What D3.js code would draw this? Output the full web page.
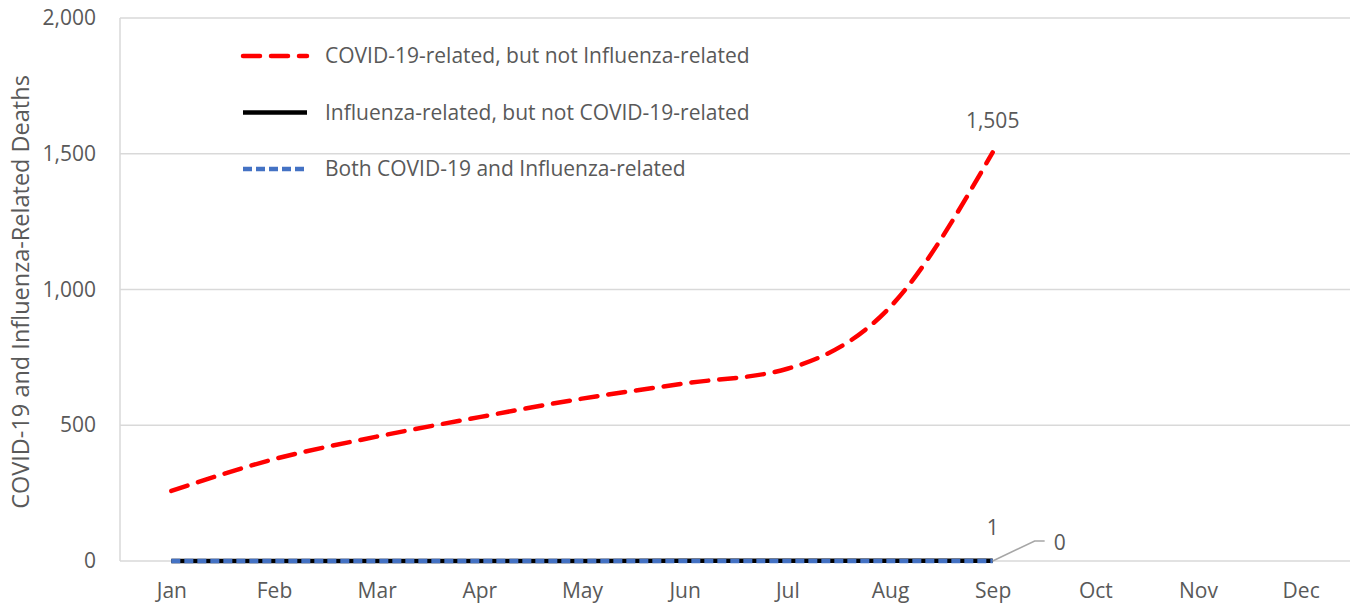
<!DOCTYPE html>
<html>
<head>
<meta charset="utf-8">
<script src="https://cdn.jsdelivr.net/npm/d3@7"></script>
<style>
  body { margin: 0; background: #fff; }
  text { font-family: "Open Sans", "Liberation Sans", sans-serif; fill: #595959; }
</style>
</head>
<body>
<div id="chart"></div>
<script>
// data
let months = ['Jan', 'Feb', 'Mar', 'Apr', 'May', 'Jun', 'Jul', 'Aug', 'Sep', 'Oct', 'Nov', 'Dec'];
let covidOnly = [258, 375, 458, 530, 598, 654, 708, 935, 1505];
let fluOnly = [0, 0, 0, 0, 0, 1, 1, 1, 1];
let both = [0, 0, 0, 0, 0, 0, 0, 0, 0];
let yTicks = [0, 500, 1000, 1500, 2000];
let seriesNames = [
    'COVID-19-related, but not Influenza-related',
    'Influenza-related, but not COVID-19-related',
    'Both COVID-19 and Influenza-related'
];

let config = {
    svg: {width: 1350, height: 604},
    plot: {left: 120, right: 1352, top: 18, bottom: 561},
    font: 21
};

let svg = d3.select('#chart')
    .append('svg')
        .attr('width', config.svg.width)
        .attr('height', config.svg.height);

let x = d3.scalePoint()
    .domain(months)
    .range([config.plot.left, config.plot.right])
    .padding(0.5);

let y = d3.scaleLinear()
    .domain([0, 2000])
    .range([config.plot.bottom, config.plot.top]);

// gridlines
svg.append('g')
    .selectAll('line')
    .data(yTicks)
    .join('line')
        .attr('x1', config.plot.left)
        .attr('x2', config.plot.right)
        .attr('y1', d => y(d))
        .attr('y2', d => y(d))
        .attr('stroke', '#d9d9d9')
        .attr('stroke-width', 1.5);

svg.append('line')
    .attr('x1', config.plot.left).attr('x2', config.plot.left)
    .attr('y1', config.plot.top).attr('y2', config.plot.bottom)
    .attr('stroke', '#d9d9d9')
    .attr('stroke-width', 1.5);

// y axis labels
let yAxis = g => g
    .attr('transform', `translate(${config.plot.left - 21},0)`)
    .call(d3.axisLeft(y).tickValues(yTicks).tickFormat(d3.format(',')).tickSize(0))
    .call(g => g.select('.domain').remove())
    .call(g => g.selectAll('text')
        .attr('font-size', config.font)
        .attr('font-family', null)
        .attr('fill', '#595959'));
svg.append('g').call(yAxis);

// x axis labels
let xAxis = g => g
    .attr('transform', `translate(0,${config.plot.bottom + 19})`)
    .call(d3.axisBottom(x).tickSize(0))
    .call(g => g.select('.domain').remove())
    .call(g => g.selectAll('text')
        .attr('font-size', config.font)
        .attr('font-family', null)
        .attr('fill', '#595959'));
svg.append('g').call(xAxis);

// y axis title
svg.append('text')
    .attr('transform', `translate(29,292) rotate(-90)`)
    .attr('text-anchor', 'middle')
    .attr('font-size', 23.5)
    .text('COVID-19 and Influenza-Related Deaths');

// lines
let line = d3.line()
    .x((d, i) => x(months[i]))
    .y(d => y(d))
    .curve(d3.curveMonotoneX);

let styles = [
    {data: covidOnly, color: '#ff0000', dash: '17,11', width: 4.5, cap: 'round'},
    {data: fluOnly, color: '#000000', dash: null, width: 4.5, cap: 'butt'},
    {data: both, color: '#4472c4', dash: '9,4', width: 4.5, cap: 'butt'}
];

svg.append('g')
    .selectAll('path')
    .data(styles)
    .join('path')
        .attr('d', d => line(d.data))
        .attr('fill', 'none')
        .attr('stroke', d => d.color)
        .attr('stroke-width', d => d.width)
        .attr('stroke-dasharray', d => d.dash)
        .attr('stroke-linecap', d => d.cap);

// data labels
let last = covidOnly.length - 1;
svg.append('text')
    .attr('x', x(months[last]))
    .attr('y', y(covidOnly[last]) - 24)
    .attr('text-anchor', 'middle')
    .attr('font-size', config.font)
    .text(d3.format(',')(covidOnly[last]));

svg.append('text')
    .attr('x', x(months[last]))
    .attr('y', y(fluOnly[last]) - 26)
    .attr('text-anchor', 'middle')
    .attr('font-size', config.font)
    .text(fluOnly[last]);

let bx = x(months[last]), by = y(both[last]);
svg.append('path')
    .attr('d', `M${bx},${by}L${bx + 42},${by - 20}L${bx + 52},${by - 20}`)
    .attr('fill', 'none')
    .attr('stroke', '#a6a6a6')
    .attr('stroke-width', 1.5);
svg.append('text')
    .attr('x', bx + 61)
    .attr('y', by - 11)
    .attr('font-size', config.font)
    .text(both[last]);

// legend
let legend = svg.append('g')
    .selectAll('g')
    .data(styles)
    .join('g')
        .attr('transform', (d, i) => `translate(243,${56 + i * 56.5})`);

legend.append('line')
    .attr('x1', 0).attr('x2', 64)
    .attr('stroke', d => d.color)
    .attr('stroke-width', d => d.width)
    .attr('stroke-dasharray', d => d.dash)
    .attr('stroke-linecap', d => d.cap);

legend.append('text')
    .attr('x', 82)
    .attr('dy', '0.35em')
    .attr('font-size', config.font)
    .text((d, i) => seriesNames[i]);
</script>
</body>
</html>
